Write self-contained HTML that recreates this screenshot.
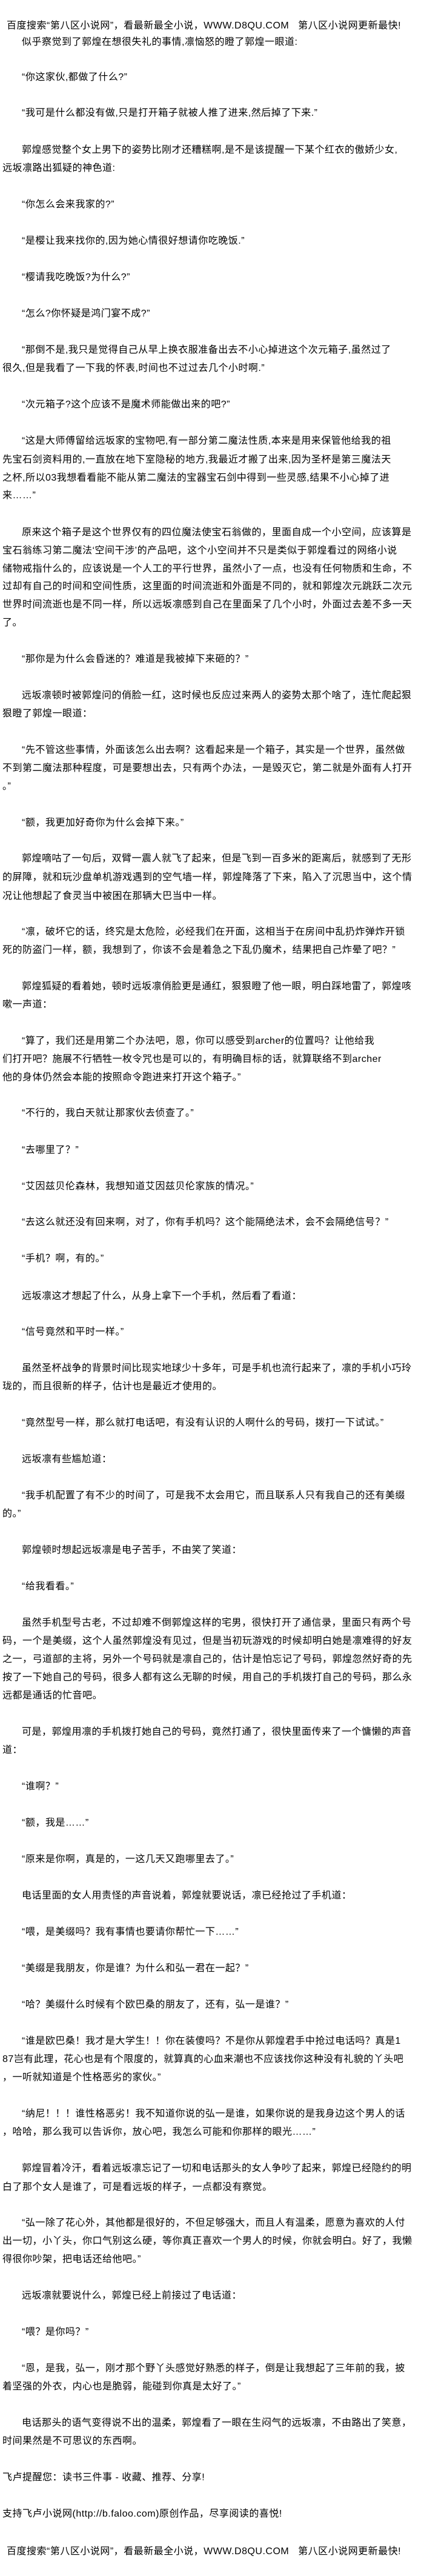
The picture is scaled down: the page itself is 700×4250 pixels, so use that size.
<!DOCTYPE html>
<html><head><meta charset="utf-8">
<style>
html,body{margin:0;padding:0;background:#fff;}
body{width:700px;height:4250px;position:relative;overflow:hidden;font-family:"Liberation Sans","Noto Sans CJK SC","WenQuanYi Zen Hei",sans-serif;font-size:16px;color:#000;}
.l{position:absolute;left:4px;height:20px;line-height:20px;white-space:nowrap;letter-spacing:0.5px;}
.i{left:36px;}
</style></head><body>
<div class="l" style="left:11px;top:33px">百度搜索“第八区小说网”，看最新最全小说，WWW.D8QU.COM&nbsp;&nbsp;&nbsp;第八区小说网更新最快!</div>
<div class="l i" style="top:60px">似乎察觉到了郭煌在想很失礼的事情,凛恼怒的瞪了郭煌一眼道:</div>
<div class="l i" style="top:118px">“你这家伙,都做了什么?”</div>
<div class="l i" style="top:177px">“我可是什么都没有做,只是打开箱子就被人推了进来,然后掉了下来.”</div>
<div class="l i" style="top:238px">郭煌感觉整个女上男下的姿势比刚才还糟糕啊,是不是该提醒一下某个红衣的傲娇少女,</div>
<div class="l" style="top:268px">远坂凛路出狐疑的神色道:</div>
<div class="l i" style="top:328px">“你怎么会来我家的?”</div>
<div class="l i" style="top:388px">“是樱让我来找你的,因为她心情很好想请你吃晚饭.”</div>
<div class="l i" style="top:448px">“樱请我吃晚饭?为什么?”</div>
<div class="l i" style="top:508px">“怎么?你怀疑是鸿门宴不成?”</div>
<div class="l i" style="top:568px">“那倒不是,我只是觉得自己从早上换衣服准备出去不小心掉进这个次元箱子,虽然过了</div>
<div class="l" style="top:598px">很久,但是我看了一下我的怀表,时间也不过过去几个小时啊.”</div>
<div class="l i" style="top:658px">“次元箱子?这个应该不是魔术师能做出来的吧?”</div>
<div class="l i" style="top:718px">“这是大师傅留给远坂家的宝物吧,有一部分第二魔法性质,本来是用来保管他给我的祖</div>
<div class="l" style="top:749px">先宝石剑资料用的,一直放在地下室隐秘的地方,我最近才搬了出来,因为圣杯是第三魔法天</div>
<div class="l" style="top:779px">之杯,所以03我想看看能不能从第二魔法的宝器宝石剑中得到一些灵感,结果不小心掉了进</div>
<div class="l" style="top:808px">来……”</div>
<div class="l i" style="top:869px">原来这个箱子是这个世界仅有的四位魔法使宝石翁做的，里面自成一个小空间，应该算是</div>
<div class="l" style="top:899px">宝石翁练习第二魔法‘空间干涉’的产品吧，这个小空间并不只是类似于郭煌看过的网络小说</div>
<div class="l" style="top:929px">储物戒指什么的，应该说是一个人工的平行世界，虽然小了一点，也没有任何物质和生命，不</div>
<div class="l" style="top:958px">过却有自己的时间和空间性质，这里面的时间流逝和外面是不同的，就和郭煌次元跳跃二次元</div>
<div class="l" style="top:988px">世界时间流逝也是不同一样，所以远坂凛感到自己在里面呆了几个小时，外面过去差不多一天</div>
<div class="l" style="top:1018px">了。</div>
<div class="l i" style="top:1078px">“那你是为什么会昏迷的？难道是我被掉下来砸的？”</div>
<div class="l i" style="top:1138px">远坂凛顿时被郭煌问的俏脸一红，这时候也反应过来两人的姿势太那个啥了，连忙爬起狠</div>
<div class="l" style="top:1168px">狠瞪了郭煌一眼道：</div>
<div class="l i" style="top:1228px">“先不管这些事情，外面该怎么出去啊？这看起来是一个箱子，其实是一个世界，虽然做</div>
<div class="l" style="top:1258px">不到第二魔法那种程度，可是要想出去，只有两个办法，一是毁灭它，第二就是外面有人打开</div>
<div class="l" style="top:1288px">。”</div>
<div class="l i" style="top:1348px">“额，我更加好奇你为什么会掉下来。”</div>
<div class="l i" style="top:1407px">郭煌嘀咕了一句后，双臂一震人就飞了起来，但是飞到一百多米的距离后，就感到了无形</div>
<div class="l" style="top:1438px">的屏障，就和玩沙盘单机游戏遇到的空气墙一样，郭煌降落了下来，陷入了沉思当中，这个情</div>
<div class="l" style="top:1469px">况让他想起了食灵当中被困在那辆大巴当中一样。</div>
<div class="l i" style="top:1528px">“凛，破坏它的话，终究是太危险，必经我们在开面，这相当于在房间中乱扔炸弹炸开锁</div>
<div class="l" style="top:1558px">死的防盗门一样，额，我想到了，你该不会是着急之下乱仍魔术，结果把自己炸晕了吧？”</div>
<div class="l i" style="top:1618px">郭煌狐疑的看着她，顿时远坂凛俏脸更是通红，狠狠瞪了他一眼，明白踩地雷了，郭煌咳</div>
<div class="l" style="top:1648px">嗽一声道：</div>
<div class="l i" style="top:1708px">“算了，我们还是用第二个办法吧，恩，你可以感受到archer的位置吗？让他给我</div>
<div class="l" style="top:1738px">们打开吧？施展不行牺牲一枚令咒也是可以的，有明确目标的话，就算联络不到archer</div>
<div class="l" style="top:1768px">他的身体仍然会本能的按照命令跑进来打开这个箱子。”</div>
<div class="l i" style="top:1827px">“不行的，我白天就让那家伙去侦查了。”</div>
<div class="l i" style="top:1888px">“去哪里了？”</div>
<div class="l i" style="top:1948px">“艾因兹贝伦森林，我想知道艾因兹贝伦家族的情况。”</div>
<div class="l i" style="top:2007px">“去这么就还没有回来啊，对了，你有手机吗？这个能隔绝法术，会不会隔绝信号？”</div>
<div class="l i" style="top:2067px">“手机？啊，有的。”</div>
<div class="l i" style="top:2129px">远坂凛这才想起了什么，从身上拿下一个手机，然后看了看道：</div>
<div class="l i" style="top:2188px">“信号竟然和平时一样。”</div>
<div class="l i" style="top:2248px">虽然圣杯战争的背景时间比现实地球少十多年，可是手机也流行起来了，凛的手机小巧玲</div>
<div class="l" style="top:2278px">珑的，而且很新的样子，估计也是最近才使用的。</div>
<div class="l i" style="top:2338px">“竟然型号一样，那么就打电话吧，有没有认识的人啊什么的号码，拨打一下试试。”</div>
<div class="l i" style="top:2398px">远坂凛有些尴尬道：</div>
<div class="l i" style="top:2458px">“我手机配置了有不少的时间了，可是我不太会用它，而且联系人只有我自己的还有美缀</div>
<div class="l" style="top:2488px">的。”</div>
<div class="l i" style="top:2548px">郭煌顿时想起远坂凛是电子苦手，不由笑了笑道：</div>
<div class="l i" style="top:2608px">“给我看看。”</div>
<div class="l i" style="top:2668px">虽然手机型号古老，不过却难不倒郭煌这样的宅男，很快打开了通信录，里面只有两个号</div>
<div class="l" style="top:2698px">码，一个是美缀，这个人虽然郭煌没有见过，但是当初玩游戏的时候却明白她是凛难得的好友</div>
<div class="l" style="top:2728px">之一，弓道部的主将，另外一个号码就是凛自己的，估计是怕忘记了号码，郭煌忽然好奇的先</div>
<div class="l" style="top:2758px">按了一下她自己的号码，很多人都有这么无聊的时候，用自己的手机拨打自己的号码，那么永</div>
<div class="l" style="top:2788px">远都是通话的忙音吧。</div>
<div class="l i" style="top:2848px">可是，郭煌用凛的手机拨打她自己的号码，竟然打通了，很快里面传来了一个慵懒的声音</div>
<div class="l" style="top:2878px">道：</div>
<div class="l i" style="top:2938px">“谁啊？”</div>
<div class="l i" style="top:2998px">“额，我是……”</div>
<div class="l i" style="top:3058px">“原来是你啊，真是的，一这几天又跑哪里去了。”</div>
<div class="l i" style="top:3118px">电话里面的女人用责怪的声音说着，郭煌就要说话，凛已经抢过了手机道：</div>
<div class="l i" style="top:3178px">“喂，是美缀吗？我有事情也要请你帮忙一下……”</div>
<div class="l i" style="top:3238px">“美缀是我朋友，你是谁？为什么和弘一君在一起？”</div>
<div class="l i" style="top:3298px">“哈？美缀什么时候有个欧巴桑的朋友了，还有，弘一是谁？”</div>
<div class="l i" style="top:3358px">“谁是欧巴桑！我才是大学生！！你在装傻吗？不是你从郭煌君手中抢过电话吗？真是1</div>
<div class="l" style="top:3388px">87岂有此理，花心也是有个限度的，就算真的心血来潮也不应该找你这种没有礼貌的丫头吧</div>
<div class="l" style="top:3418px">，一听就知道是个性格恶劣的家伙。”</div>
<div class="l i" style="top:3478px">“纳尼！！！谁性格恶劣！我不知道你说的弘一是谁，如果你说的是我身边这个男人的话</div>
<div class="l" style="top:3508px">，哈哈，那么我可以告诉你，放心吧，我怎么可能和你那样的眼光……”</div>
<div class="l i" style="top:3568px">郭煌冒着冷汗，看着远坂凛忘记了一切和电话那头的女人争吵了起来，郭煌已经隐约的明</div>
<div class="l" style="top:3599px">白了那个女人是谁了，可是看远坂的样子，一点都没有察觉。</div>
<div class="l i" style="top:3658px">“弘一除了花心外，其他都是很好的，不但足够强大，而且人有温柔，愿意为喜欢的人付</div>
<div class="l" style="top:3688px">出一切，小丫头，你口气别这么硬，等你真正喜欢一个男人的时候，你就会明白。好了，我懒</div>
<div class="l" style="top:3718px">得很你吵架，把电话还给他吧。”</div>
<div class="l i" style="top:3778px">远坂凛就要说什么，郭煌已经上前接过了电话道：</div>
<div class="l i" style="top:3838px">“喂？是你吗？”</div>
<div class="l i" style="top:3898px">“恩，是我，弘一，刚才那个野丫头感觉好熟悉的样子，倒是让我想起了三年前的我，披</div>
<div class="l" style="top:3928px">着坚强的外衣，内心也是脆弱，能碰到你真是太好了。”</div>
<div class="l i" style="top:3988px">电话那头的语气变得说不出的温柔，郭煌看了一眼在生闷气的远坂凛，不由路出了笑意，</div>
<div class="l" style="top:4018px">时间果然是不可思议的东西啊。</div>
<div class="l" style="top:4078px">飞卢提醒您：读书三件事 - 收藏、推荐、分享!</div>
<div class="l" style="top:4138px">支持飞卢小说网(http://b.faloo.com)原创作品，尽享阅读的喜悦!</div>
<div class="l" style="left:11px;top:4200px">百度搜索“第八区小说网”，看最新最全小说，WWW.D8QU.COM&nbsp;&nbsp;&nbsp;第八区小说网更新最快!</div>
</body></html>
